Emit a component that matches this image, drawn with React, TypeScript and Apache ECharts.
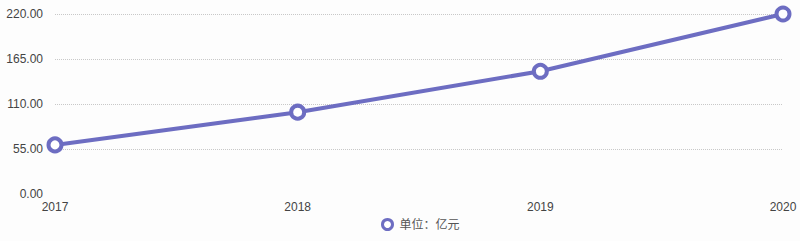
import React, { useEffect, useRef } from "react";
import * as echarts from "echarts";

const years = ["2017", "2018", "2019", "2020"];
const revenue = [60, 100, 150, 220];
const seriesName = "单位：亿元";

const FONT = "'Liberation Sans', 'Noto Sans CJK SC', sans-serif";
const PURPLE = "#6d6dc2";

export default function App() {
  const ref = useRef<HTMLDivElement>(null);

  useEffect(() => {
    document.body.style.margin = "0";
    if (!ref.current) return;
    const chart = echarts.init(ref.current, undefined, { renderer: "svg" });
    chart.setOption({
      animation: false,
      backgroundColor: "#fdfdfd",
      textStyle: { fontFamily: FONT },
      grid: { left: 55, right: 17, top: 14, bottom: 47 },
      legend: {
        bottom: 5,
        left: 376,
        icon: "circle",
        itemWidth: 10,
        itemHeight: 10,
        itemGap: 8,
        itemStyle: { color: "#ffffff", borderColor: PURPLE, borderWidth: 3 },
        textStyle: { color: "#555", fontSize: 12, fontFamily: FONT, padding: [0, 0, 0, 2] },
        data: [seriesName],
      },
      xAxis: {
        type: "category",
        data: years,
        boundaryGap: false,
        axisLine: { show: false },
        axisTick: { show: false },
        axisLabel: {
          color: "#444",
          fontSize: 12,
          margin: 7,
          showMinLabel: true,
          showMaxLabel: true,
        },
      },
      yAxis: {
        type: "value",
        min: 0,
        max: 220,
        interval: 55,
        axisLine: { show: false },
        axisTick: { show: false },
        axisLabel: {
          color: "#444",
          fontSize: 12,
          margin: 12,
          formatter: (v: number) => v.toFixed(2),
        },
        splitLine: {
          show: true,
          lineStyle: {
            type: "dotted",
            color: ["transparent", "#c8c8c8", "#c8c8c8", "#c8c8c8", "#c8c8c8"],
            width: 1,
          },
        },
      },
      series: [
        {
          name: seriesName,
          type: "line",
          data: revenue,
          symbol: "circle",
          symbolSize: 13,
          itemStyle: { color: "#ffffff", borderColor: PURPLE, borderWidth: 4 },
          lineStyle: { color: PURPLE, width: 4 },
        },
      ],
    });
    return () => chart.dispose();
  }, []);

  return <div ref={ref} style={{ width: 800, height: 241 }} />;
}
